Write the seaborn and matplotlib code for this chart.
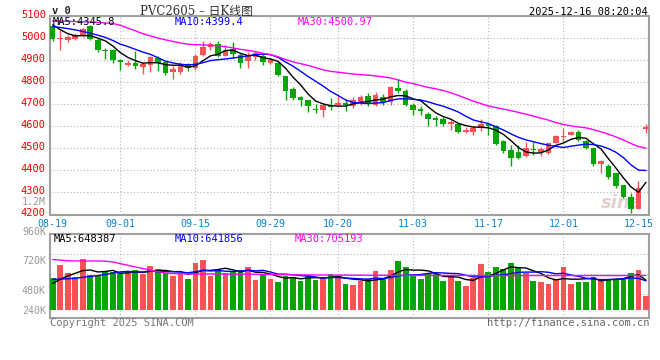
import matplotlib
matplotlib.use("Agg")
import matplotlib.pyplot as plt
import matplotlib.transforms as mtransforms
import numpy as np
import seaborn as sns

sns.set_style("white")
plt.rcParams['font.family'] = ['DejaVu Sans Mono', 'Noto Sans CJK SC']

# daily candles PVC2605, 2025-08-19 .. 2025-12-16 (80 trading days)
opens = [5053, 4997, 4993, 4996, 5010, 5055, 4992, 4944, 4947, 4902,
         4879, 4887, 4867, 4879, 4909, 4890, 4844, 4844, 4884, 4864,
         4924, 4959, 4971, 4920, 4950, 4925, 4894, 4914, 4920, 4887,
         4887, 4826, 4771, 4731, 4718, 4680, 4673, 4697, 4695, 4706,
         4691, 4709, 4739, 4698, 4731, 4709, 4774, 4762, 4695, 4680,
         4657, 4639, 4635, 4612, 4612, 4575, 4575, 4590, 4611, 4603,
         4532, 4494, 4482, 4464, 4499, 4483, 4479, 4525, 4553, 4562,
         4575, 4532, 4502, 4427, 4422, 4386, 4332, 4279, 4226, 4588]
highs = [5058, 5037, 5015, 5025, 5045, 5060, 5000, 4955, 4950, 4905,
         4899, 4940, 4890, 4917, 4917, 4894, 4872, 4890, 4888, 4929,
         4988, 4980, 4988, 4970, 4982, 4932, 4939, 4944, 4929, 4909,
         4890, 4829, 4778, 4736, 4721, 4703, 4700, 4728, 4736, 4724,
         4733, 4743, 4751, 4755, 4748, 4784, 4816, 4769, 4706, 4691,
         4664, 4646, 4642, 4630, 4615, 4597, 4603, 4633, 4615, 4608,
         4537, 4517, 4513, 4528, 4528, 4507, 4525, 4562, 4593, 4578,
         4581, 4537, 4507, 4449, 4427, 4389, 4336, 4299, 4351, 4612]
lows = [4985, 4944, 4980, 4990, 5007, 4989, 4937, 4905, 4887, 4853,
        4872, 4860, 4838, 4845, 4850, 4834, 4814, 4838, 4850, 4857,
        4920, 4944, 4914, 4917, 4909, 4864, 4864, 4899, 4879, 4884,
        4829, 4718, 4721, 4691, 4664, 4661, 4641, 4676, 4691, 4668,
        4683, 4698, 4691, 4691, 4698, 4698, 4751, 4691, 4653, 4653,
        4600, 4600, 4603, 4582, 4568, 4570, 4562, 4578, 4562, 4514,
        4480, 4419, 4450, 4461, 4472, 4464, 4476, 4522, 4528, 4559,
        4532, 4495, 4419, 4389, 4359, 4321, 4276, 4205, 4223, 4570]
closes = [4995, 5000, 5004, 5015, 5041, 4995, 4944, 4941, 4899, 4891,
          4886, 4872, 4882, 4912, 4888, 4842, 4860, 4883, 4864, 4920,
          4958, 4971, 4920, 4947, 4929, 4887, 4917, 4932, 4890, 4899,
          4834, 4762, 4728, 4718, 4691, 4674, 4697, 4688, 4706, 4695,
          4721, 4733, 4706, 4743, 4709, 4777, 4762, 4698, 4676, 4668,
          4635, 4629, 4612, 4618, 4573, 4585, 4593, 4611, 4603, 4520,
          4490, 4454, 4454, 4502, 4492, 4495, 4522, 4555, 4556, 4575,
          4540, 4502, 4430, 4442, 4369, 4329, 4280, 4226, 4321, 4598]

ma5 = [5060, 5038, 5020, 5010, 5011.0, 5011.0, 4999.8, 4987.2, 4964.0, 4934.0,
       4912.2, 4897.8, 4886.0, 4888.6, 4888.0, 4879.2, 4876.8, 4877.0, 4867.4, 4873.8,
       4897.0, 4919.2, 4926.6, 4943.2, 4945.0, 4930.8, 4920.0, 4922.4, 4911.0, 4905.0,
       4894.4, 4863.4, 4822.6, 4788.2, 4746.6, 4714.6, 4701.6, 4693.6, 4691.2, 4692.0,
       4701.4, 4708.6, 4712.2, 4719.6, 4722.4, 4733.6, 4739.4, 4737.8, 4724.4, 4716.2,
       4687.8, 4661.2, 4644.0, 4632.4, 4613.4, 4603.4, 4596.2, 4596.0, 4593.0, 4582.4,
       4563.4, 4535.6, 4504.2, 4484.0, 4478.4, 4479.4, 4493.0, 4513.2, 4524.0, 4540.6,
       4549.6, 4545.6, 4520.6, 4497.8, 4452.6, 4410.4, 4366.0, 4325.2, 4301.0, 4345.8]
ma10 = [5052, 5048, 5043, 5037, 5030, 5022, 5013, 5003, 4989, 4972.5,
        4961.6, 4948.8, 4936.6, 4926.3, 4911.0, 4895.7, 4887.3, 4881.5, 4878.0, 4880.9,
        4888.1, 4898.0, 4901.8, 4905.3, 4909.4, 4913.9, 4919.6, 4924.5, 4927.1, 4925.0,
        4912.6, 4891.7, 4872.5, 4849.6, 4825.8, 4804.5, 4782.5, 4758.1, 4739.7, 4719.3,
        4708.0, 4705.1, 4702.9, 4705.4, 4707.2, 4717.5, 4724.0, 4725.0, 4722.0, 4719.3,
        4710.7, 4700.3, 4690.9, 4678.4, 4664.8, 4645.6, 4628.7, 4620.0, 4612.7, 4597.9,
        4583.4, 4565.9, 4550.1, 4538.5, 4530.4, 4521.4, 4514.3, 4508.7, 4504.0, 4509.5,
        4514.5, 4519.3, 4516.9, 4510.9, 4498.6, 4482.0, 4457.8, 4424.9, 4401.4, 4399.4]
ma30 = [5078, 5077, 5076, 5075, 5074, 5073, 5071, 5069, 5066, 5058,
        5045, 5033, 5020, 5010, 5000, 4992, 4985, 4978, 4972, 4970,
        4969, 4967, 4965, 4961, 4955, 4949, 4944, 4938, 4931, 4925,
        4915, 4903, 4892, 4884, 4876, 4866, 4856, 4849, 4845, 4841,
        4837, 4834, 4832, 4828, 4824, 4819, 4810, 4800, 4793, 4785,
        4776, 4770, 4762, 4752, 4740, 4727, 4714, 4703, 4692, 4685,
        4678, 4671, 4663, 4655, 4646, 4637, 4628, 4617, 4608, 4602,
        4597, 4593, 4585, 4575, 4564, 4552, 4538, 4522, 4508, 4500.97]

# volume in thousands
volume = [672, 832, 732, 684, 900, 712, 712, 760, 752, 732,
          732, 772, 724, 820, 780, 740, 700, 724, 660, 860,
          892, 700, 772, 740, 760, 772, 804, 652, 724, 660,
          632, 700, 692, 644, 712, 652, 684, 724, 704, 604,
          592, 644, 664, 760, 664, 772, 880, 812, 724, 664,
          724, 724, 640, 704, 640, 580, 672, 844, 748, 812,
          784, 860, 792, 732, 640, 628, 604, 660, 812, 604,
          628, 628, 692, 660, 664, 652, 672, 740, 772, 464]
vol_ma5 = [611, 660, 700, 732, 764.0, 772.0, 748.0, 753.6, 767.2, 733.6,
           737.6, 749.6, 742.4, 756.0, 765.6, 767.2, 752.8, 752.8, 720.8, 736.8,
           767.2, 767.2, 776.8, 792.8, 772.8, 748.8, 769.6, 745.6, 742.4, 722.4,
           694.4, 673.6, 681.6, 665.6, 676.0, 680.0, 676.8, 683.2, 695.2, 673.6,
           661.6, 653.6, 641.6, 652.8, 664.8, 700.8, 748.0, 777.6, 770.4, 770.4,
           760.8, 729.6, 695.2, 691.2, 686.4, 657.6, 647.2, 688.0, 696.8, 731.2,
           772.0, 809.6, 799.2, 796.0, 761.6, 730.4, 679.2, 652.8, 668.8, 661.6,
           661.6, 666.4, 672.8, 642.4, 654.4, 659.2, 668.0, 696.0, 716.0, 648.387]
vol_ma10 = [660, 662, 666, 672, 684, 694, 705, 718, 735, 748.8,
            754.8, 748.8, 748.0, 761.6, 749.6, 752.4, 751.2, 747.6, 738.4, 751.2,
            767.2, 760.0, 764.8, 756.8, 754.8, 758.0, 768.4, 761.2, 767.6, 747.6,
            721.6, 721.6, 713.6, 704.0, 699.2, 687.2, 675.2, 682.4, 680.4, 674.8,
            670.8, 665.2, 662.4, 674.0, 669.2, 681.2, 700.8, 709.6, 711.6, 717.6,
            730.8, 738.8, 736.4, 730.8, 728.4, 709.2, 688.4, 691.6, 694.0, 708.8,
            714.8, 728.4, 743.6, 746.4, 746.4, 751.2, 744.4, 726.0, 732.4, 711.6,
            696.0, 672.8, 662.8, 655.6, 658.0, 660.4, 667.2, 675.2, 671.2, 641.856]
vol_ma30 = [898, 890, 882, 880, 880, 880, 880, 878, 868, 848,
            828, 808, 790, 770, 752, 736, 730, 727, 725, 724,
            724, 724, 723, 723, 722, 722, 721, 721, 720, 718,
            716, 715, 714, 713, 712, 712, 711, 711, 710, 710,
            709, 709, 708, 708, 708, 707, 707, 707, 707, 706,
            706, 706, 706, 706, 706, 706, 706, 705, 705, 705,
            705, 705, 705, 705, 705, 705, 705, 705, 705, 705,
            705, 705, 705, 705, 705, 705, 705, 705, 705, 705.193]

tick_idx = [0, 9, 19, 29, 38, 48, 58, 68, 78]
tick_lbl = ['08-19', '09-01', '09-15', '09-29', '10-20', '11-03', '11-17', '12-01', '12-15']
grid_idx = tick_idx[1:-1]

RED = '#f65454'
GREEN = '#04a504'
GRID = '#b4b4b4'
FRAME = '#a0a0a0'
W, H = 660, 360


def fx(x):
    return x / W


def fy(y):
    return 1 - y / H


fig = plt.figure(figsize=(6.6, 3.6), dpi=100)
ax = fig.add_axes([fx(50), fy(214.5), 599 / W, 198.5 / H])
ax2 = fig.add_axes([fx(50), fy(318.3), 599 / W, 84 / H])

xs = np.arange(len(closes))
o = np.array(opens)
c = np.array(closes)
colors = np.where(c >= o, RED, GREEN)

# candles
ax.vlines(xs, lows, highs, colors=colors, lw=1, zorder=3)
ax.bar(xs, np.maximum(np.abs(c - o), 3), bottom=np.minimum(o, c), width=0.74,
       color=colors, linewidth=0, zorder=3)
for ys, col in [(ma5, 'black'), (ma10, '#0000ff'), (ma30, '#ff00ff')]:
    sns.lineplot(x=xs, y=ys, ax=ax, color=col, linewidth=1, estimator=None, zorder=4)

# volume
vol_base = 288
ax2.bar(xs, np.array(volume) - vol_base, bottom=vol_base, width=0.76,
        color=colors, linewidth=0, zorder=3)
for ys, col in [(vol_ma5, 'black'), (vol_ma10, '#0000ff'), (vol_ma30, '#ff00ff')]:
    sns.lineplot(x=xs, y=ys, ax=ax2, color=col, linewidth=1, estimator=None, zorder=4)

for a in (ax, ax2):
    a.set_xlim(-0.36, 79.4)
    a.set_xlabel('')
    a.set_ylabel('')
    a.tick_params(length=0)
    for s in a.spines.values():
        s.set_color(FRAME)
        s.set_linewidth(1.5)
    for t in grid_idx:
        a.axvline(t, color=GRID, lw=0.8, linestyle=(0, (1, 2)), zorder=1)
    a.grid(axis='y', color=GRID, lw=0.8, linestyle=(0, (1, 2)), zorder=1)
    a.grid(axis='x', visible=False)

ax.set_ylim(4200, 5100)
ax.set_yticks(range(4200, 5101, 100))
ax.tick_params(axis='y', labelcolor='#ee0000', labelsize=7.5, pad=3)
ax.set_xticks(tick_idx, tick_lbl)
ax.tick_params(axis='x', labelcolor='#0a84d6', labelsize=7.2, pad=3)
# price labels sit a touch above their grid lines
up = mtransforms.ScaledTranslation(0, 2 / 100, fig.dpi_scale_trans)
for lab in ax.get_yticklabels():
    lab.set_transform(lab.get_transform() + up)

ax2.set_ylim(192, 1200)
ax2.set_yticks([480, 720, 960], [])
ax2.set_xticks([])

ax.text(0.955, 0.06, 'sina', transform=ax.transAxes, fontsize=13, color='#e2d0d0',
        style='italic', fontweight='bold', family='DejaVu Sans', ha='center',
        va='center', zorder=2)

mono = dict(family='DejaVu Sans Mono', fontsize=7.5, va='center')
fig.text(fx(52), fy(11), 'v 0', fontweight='bold', **mono)
fig.text(fx(140), fy(11), 'PVC2605 – 日K线图', family=['DejaVu Serif', 'Noto Sans CJK SC'],
         fontsize=8.5, color='#333333', va='center')
fig.text(fx(648), fy(12), '2025-12-16 08:20:04', ha='right', color='black', **mono)

fig.text(fx(53), fy(22), 'MA5:4345.8', color='black', **mono)
fig.text(fx(175), fy(22), 'MA10:4399.4', color='#0000ff', **mono)
fig.text(fx(298), fy(22), 'MA30:4500.97', color='#ff00ff', **mono)

fig.text(fx(54), fy(239), 'MA5:648387', color='black', **mono)
fig.text(fx(175), fy(239), 'MA10:641856', color='#0000ff', **mono)
fig.text(fx(295), fy(239), 'MA30:705193', color='#ff00ff', **mono)

for lbl, y in [('1.2M', 202), ('960K', 232), ('720K', 261), ('480K', 291.5), ('240K', 311)]:
    fig.text(fx(46), fy(y), lbl, ha='right', color='#999999', family='DejaVu Sans Mono',
             fontsize=7.2, va='center')

fig.text(fx(50), fy(323), 'Copyright 2025 SINA.COM', color='#777777', **mono)
fig.text(fx(649), fy(323), 'http://finance.sina.com.cn', ha='right', color='#666666', **mono)

fig.savefig('out.png', dpi=100)
